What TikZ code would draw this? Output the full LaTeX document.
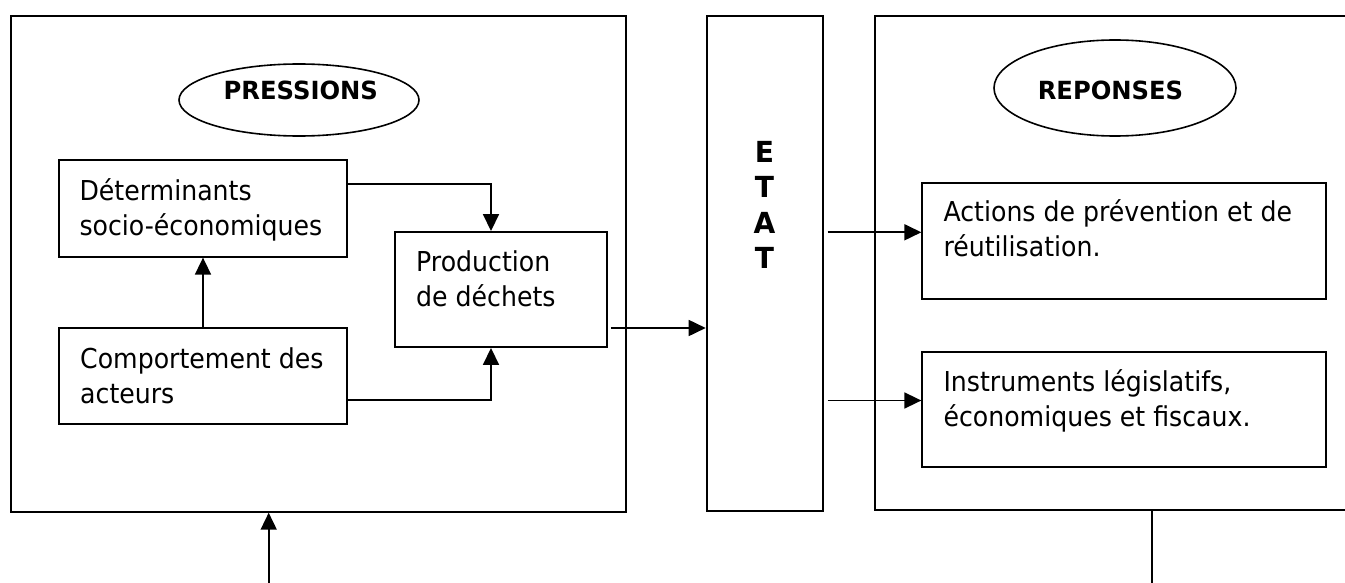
\documentclass[tikz,border=0pt]{standalone}
\usepackage{fontspec}
\setmainfont{DejaVu Sans}[FakeStretch=0.92, BoldFeatures={FakeStretch=0.97}]
\usetikzlibrary{arrows.meta,shapes.geometric,calc}
\tikzset{
  frame/.style={draw, line width=2pt, rectangle, inner sep=0pt},
  inbox/.style={draw, line width=1.9pt, rectangle, inner sep=0pt},
  oval/.style={draw, line width=1.6pt, ellipse, inner sep=0pt},
  txt/.style={inner sep=0pt, anchor=north west, align=left, font=\fontsize{27.4}{35}\selectfont},
  ttl/.style={inner sep=0pt, anchor=base, font=\fontsize{25}{30}\selectfont\bfseries},
  arr/.style={line width=1.7pt, -{Triangle[length=17pt,width=16pt]}},
  ln/.style={line width=1.7pt}
}
\newcommand{\topstrut}{\rule{0pt}{30pt}}
\begin{document}
\begin{tikzpicture}[x=1pt,y=-1pt]
\useasboundingbox (0,0) rectangle (1345,583);
\clip (0,0) rectangle (1345,583);
% frames
\node[frame, minimum width=615pt, minimum height=496pt] (L) at (318.2,263.7) {};
\node[frame, minimum width=116pt, minimum height=495pt] (E) at (764.7,263.5) {};
\node[frame, minimum width=485.3pt, minimum height=494pt] (R) at (1117.35,263) {};
% ellipses
\node[oval, minimum width=240pt, minimum height=72pt] (pe) at (299,100) {};
\node[ttl] (pt) at (300.8,100) {PRESSIONS};
\node[oval, minimum width=242pt, minimum height=96pt] (re) at (1115,88) {};
\node[ttl] (rt) at (1110.5,100) {REPONSES};
% inner boxes
\node[inbox, minimum width=288.6pt, minimum height=96.7pt] (D) at (203,208.35) {};
\node[inbox, minimum width=288.6pt, minimum height=96.3pt] (C) at (203,376.15) {};
\node[inbox, minimum width=212pt, minimum height=115pt] (P) at (500.7,289.5) {};
\node[inbox, minimum width=403.7pt, minimum height=116pt] (A) at (1124.15,241.3) {};
\node[inbox, minimum width=403.7pt, minimum height=115.3pt] (I) at (1124.15,409.65) {};
% texts
\node[txt] (Dt) at (79.3,170) {\topstrut D\'eterminants\\socio-\'economiques};
\node[txt] (Ct) at (80,338.3) {\topstrut Comportement des\\acteurs};
\node[txt] (Pt) at (416,241.7) {\topstrut Production\\de d\'echets};
\node[txt] (At) at (943.3,191.7) {\topstrut Actions de pr\'evention et de\\r\'eutilisation.};
\node[txt] (It) at (943.3,361.7) {\topstrut Instruments l\'egislatifs,\\\'economiques et fiscaux.};
\node[inner sep=0pt, anchor=north, align=center, font=\fontsize{29}{35.4}\selectfont\bfseries] (Et) at (764.5,132) {\topstrut E\\T\\A\\T};
% connectors
\draw[arr] (C) -- (D);
\draw[arr] ([yshift=24.65pt]D.east) -| ([xshift=-9.7pt]P.north);
\draw[arr] ([yshift=-23.85pt]C.east) -| ([xshift=-9.7pt]P.south);
\coordinate (p1) at ([xshift=3.3pt,yshift=-38.5pt]P.east);
\draw[arr] (p1) -- (E.west |- p1);
\coordinate (a1) at ([yshift=9pt]A.west);
\draw[arr] ($(E.east |- a1)+(4,0)$) -- (a1);
\coordinate (i1) at ([yshift=9.15pt]I.west);
\draw[arr] ($(E.east |- i1)+(4,0)$) -- (i1);
\coordinate (lup) at (268.7,583);
\draw[arr] (lup) -- (L.south -| lup);
\coordinate (rdown) at (1152.3,583);
\draw[ln] (R.south -| rdown) -- (rdown);
\end{tikzpicture}
\end{document}
